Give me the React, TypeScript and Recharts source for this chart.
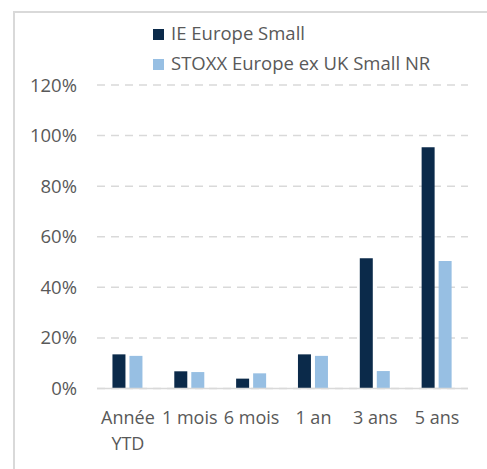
import React from "react";
import { BarChart, Bar, XAxis, YAxis, CartesianGrid, Legend } from "recharts";

const categories = ["Année\nYTD", "1 mois", "6 mois", "1 an", "3 ans", "5 ans"];
const ieEuropeSmall = [13.5, 6.8, 3.9, 13.5, 51.5, 95.4];
const stoxxEuropeExUkSmall = [12.9, 6.5, 6.0, 12.9, 6.9, 50.4];
const yTicks = [0, 20, 40, 60, 80, 100, 120];
const seriesNames = ["IE Europe Small", "STOXX Europe ex UK Small NR"];

const data = categories.map((c, i) => ({
  name: c,
  ie: ieEuropeSmall[i],
  stoxx: stoxxEuropeExUkSmall[i],
}));

const FONT = "'Open Sans', sans-serif";
const TEXT = "#595959";
const DARK = "#0B2A4A";
const LIGHT = "#97BFE3";

const XTick = (props: any) => {
  const { x, y, payload } = props;
  const lines = String(payload.value).split("\n");
  return (
    <text x={x} y={y} textAnchor="middle" fill={TEXT} fontSize={18} fontFamily={FONT}>
      {lines.map((l, i) => (
        <tspan key={i} x={x} dy={i === 0 ? 35 : 26.7}>
          {l}
        </tspan>
      ))}
    </text>
  );
};

const LegendContent = (props: any) => {
  const { payload } = props;
  return (
    <div style={{ fontFamily: FONT, fontSize: 18.5, color: TEXT, textAlign: "left" }}>
      {payload.map((p: any, i: number) => (
        <div key={i} style={{ position: "relative", height: 30, whiteSpace: "nowrap" }}>
          <div
            style={{
              position: "absolute",
              left: 0,
              top: 3,
              width: 11,
              height: 11,
              background: p.color,
            }}
          />
          <span style={{ position: "absolute", left: 18, top: -8, lineHeight: "30px" }}>{p.value}</span>
        </div>
      ))}
    </div>
  );
};

export default function App() {
  return (
    <div style={{ position: "absolute", left: 0, top: 0, width: 487, height: 469, background: "#fff", overflow: "hidden" }}>
      <div
        style={{
          position: "absolute",
          left: 13,
          top: 11,
          width: 500,
          height: 500,
          borderLeft: "2px solid #d9d9d9",
          borderTop: "2px solid #d9d9d9",
        }}
      />
      <div style={{ position: "absolute", left: 0, top: 0 }}>
        <BarChart
          width={487}
          height={469}
          data={data}
          margin={{ top: 85, right: 19, bottom: 0, left: 0 }}
          barCategoryGap="25%"
          barGap={4}
        >
          <CartesianGrid
            vertical={false}
            stroke="#d9d9d9"
            strokeWidth={1.5}
            strokeDasharray="8 6"
          />
          <XAxis
            dataKey="name"
            interval={0}
            height={80.5}
            tickLine={false}
            axisLine={{ stroke: "#d9d9d9", strokeWidth: 1.5 }}
            tick={<XTick />}
            tickSize={0}
            tickMargin={0}
          />
          <YAxis
            width={97}
            domain={[0, 120]}
            ticks={yTicks}
            interval={0}
            axisLine={false}
            tickLine={false}
            tickSize={0}
            tickMargin={20}
            tickFormatter={(v: number) => `${v}%`}
            tick={{ fill: TEXT, fontSize: 18.5, fontFamily: FONT }}
          />
          <Legend
            layout="vertical"
            verticalAlign="middle"
            align="center"
            content={<LegendContent />}
            wrapperStyle={{ position: "absolute", left: 153, top: 26, width: 320 }}
          />
          <Bar dataKey="ie" name={seriesNames[0]} fill={DARK} isAnimationActive={false} />
          <Bar dataKey="stoxx" name={seriesNames[1]} fill={LIGHT} isAnimationActive={false} />
        </BarChart>
      </div>
    </div>
  );
}
